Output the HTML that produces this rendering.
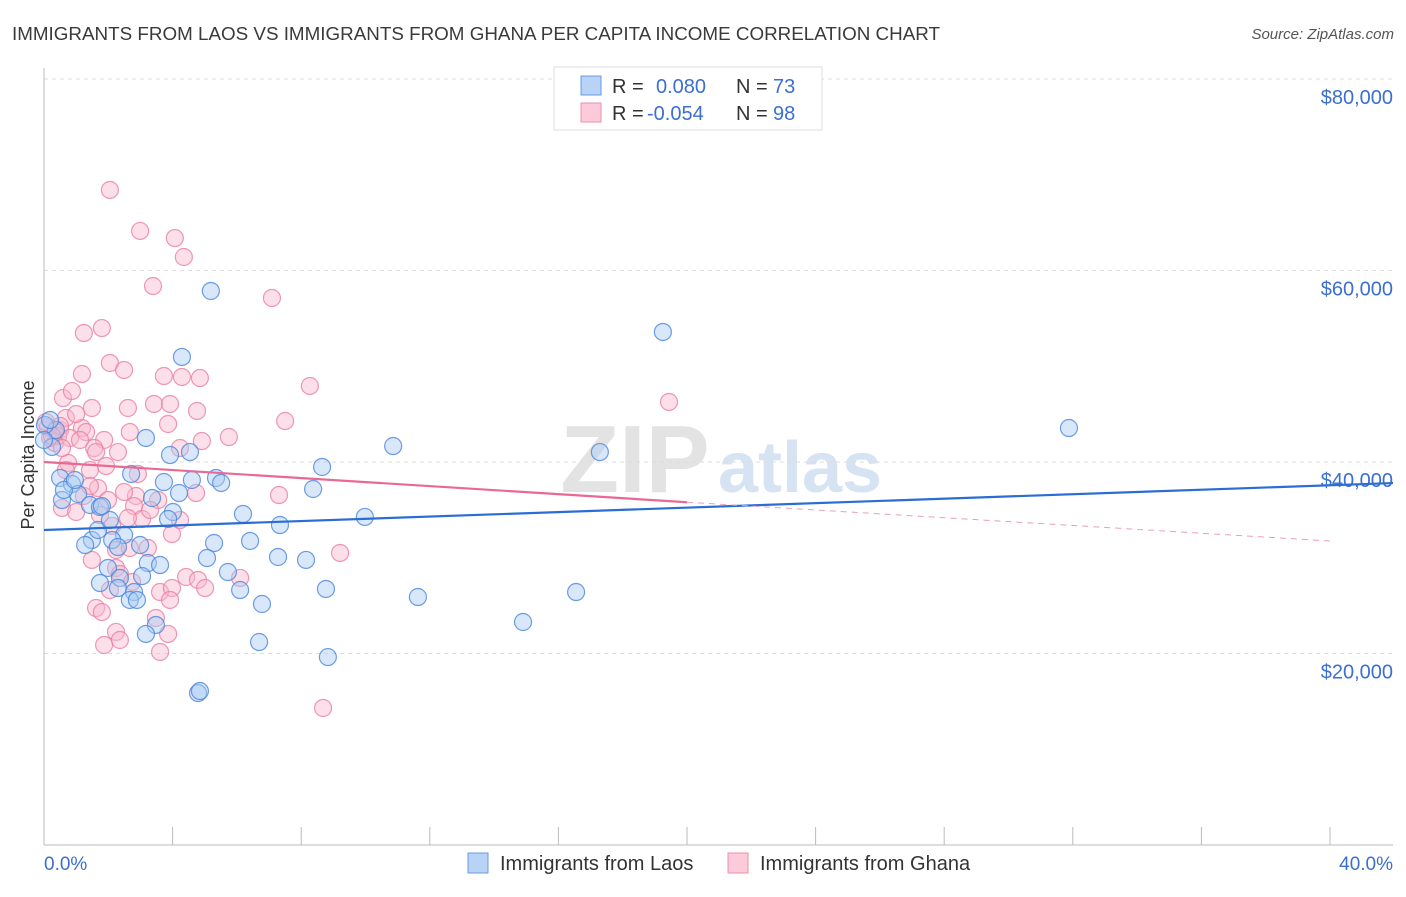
<!DOCTYPE html>
<html><head><meta charset="utf-8"><style>
body{margin:0;background:#fff;font-family:"Liberation Sans",sans-serif}
svg text{font-family:"Liberation Sans",sans-serif}
</style></head><body>
<svg id="chart" width="1406" height="892" xmlns="http://www.w3.org/2000/svg">
<text x="12" y="40" font-size="18" fill="#3a3a3a" textLength="928" lengthAdjust="spacingAndGlyphs">IMMIGRANTS FROM LAOS VS IMMIGRANTS FROM GHANA PER CAPITA INCOME CORRELATION CHART</text>
<text x="1394" y="39" font-size="15" fill="#555" text-anchor="end" font-style="italic">Source: ZipAtlas.com</text>
<g>
<text x="635" y="492" font-size="96" fill="#e3e3e3" text-anchor="middle" font-family="Liberation Serif" font-weight="bold">ZIP</text>
<text x="800" y="492" font-size="72" fill="#d6e3f3" text-anchor="middle" font-weight="bold">atlas</text>
</g>
<g id="grid"></g>
<g id="axes"></g>
<g id="pts"></g>
<g id="trends"></g>
<text transform="translate(34,455) rotate(-90)" font-size="18" fill="#333" text-anchor="middle">Per Capita Income</text>
<text x="44" y="870" font-size="19" fill="#3b6fd0">0.0%</text>
<text x="1393" y="870" font-size="19" fill="#3b6fd0" text-anchor="end">40.0%</text>
<g>
<rect x="554" y="67" width="268" height="63" fill="#fff" stroke="#ddd"/>
<rect x="581" y="76" width="20" height="19" fill="#b8d3f5" stroke="#6a9be0"/>
<rect x="581" y="103" width="20" height="19" fill="#fccad8" stroke="#ee8fae"/>
<text x="612" y="93" font-size="20" fill="#333">R =</text>
<text x="656" y="93" font-size="20" fill="#3b6fd0">0.080</text>
<text x="736" y="93" font-size="20" fill="#333">N =</text>
<text x="773" y="93" font-size="20" fill="#3b6fd0">73</text>
<text x="612" y="120" font-size="20" fill="#333">R =</text>
<text x="647" y="120" font-size="20" fill="#3b6fd0">-0.054</text>
<text x="736" y="120" font-size="20" fill="#333">N =</text>
<text x="773" y="120" font-size="20" fill="#3b6fd0">98</text>
</g>
<g>
<rect x="468" y="853" width="20" height="20" fill="#b8d3f5" stroke="#6a9be0"/>
<text x="500" y="870" font-size="20" fill="#333">Immigrants from Laos</text>
<rect x="728" y="853" width="20" height="20" fill="#fccad8" stroke="#ee8fae"/>
<text x="760" y="870" font-size="20" fill="#333">Immigrants from Ghana</text>
</g>
</svg>
<script>
const yTicks=[20000,40000,60000,80000];
const yTickLabels=["$20,000","$40,000","$60,000","$80,000"];
const xTicks=[0,4,8,12,16,20,24,28,32,36,40];
const laosX=[5.19,19.25,4.29,31.88,10.86,17.29,3.17,3.92,4.54,8.65,5.35,5.51,2.71,3.73,0.50,0.87,0.56,1.06,1.43,1.74,3.36,4.20,4.01,6.19,8.37,9.98,7.34,2.49,2.12,2.30,1.49,1.28,5.29,6.41,5.07,7.28,8.15,3.23,3.61,1.99,2.36,3.05,5.72,1.74,2.30,2.80,2.67,2.89,6.10,6.78,8.77,11.63,16.55,14.90,3.48,3.17,6.69,8.83,4.79,4.85,0.25,0.37,0.03,0.0,0.19,0.62,0.96,3.86,1.68,2.05,1.80,4.60,2.99];
const laosY=[57860,53580,50970,43550,41670,41040,42510,40730,41040,39480,38330,37810,38750,37910,38330,37700,36030,36660,35510,35300,36240,36760,34780,34570,37180,34260,33420,32380,31850,31120,31850,31330,31540,31750,29970,30080,29770,29450,29240,28930,27890,28090,28510,27360,26840,26420,25590,25590,26630,25170,26740,25900,26420,23290,22980,22040,21200,19630,15870,16080,41570,43340,43860,42300,44390,37080,38120,34050,32900,33940,35400,38120,31330];
const ghanaX=[2.05,2.99,4.07,4.35,3.39,7.09,1.24,1.80,2.05,1.18,2.49,3.73,4.29,4.85,8.27,0.59,0.87,1.49,2.61,3.42,3.92,4.76,7.50,19.44,5.75,2.67,3.86,1.87,1.18,0.50,0.34,0.68,1.00,1.31,1.56,2.30,4.23,2.92,4.91,0.75,1.43,1.93,2.86,3.55,4.73,7.31,1.24,1.68,0.56,1.00,1.74,2.80,3.05,3.98,3.23,2.24,2.67,2.24,2.36,4.42,4.79,5.01,6.10,3.61,3.98,3.92,2.05,1.62,1.80,9.21,3.48,3.86,2.24,2.36,1.87,3.61,8.68,0.34,0.44,0.19,0.12,0.50,0.25,0.06,0.81,1.12,0.56,1.62,1.43,2.49,3.30,1.99,2.61,2.12,4.23,1.49,2.74,0.68];
const ghanaY=[68410,64130,63390,61410,58380,57130,53470,53990,50340,49190,49610,48980,48880,48770,47940,46680,47410,45640,45640,46060,46060,45330,44280,46270,42610,43130,43970,42300,43550,43340,41980,44600,45010,43130,41460,41040,41460,38750,42190,39900,39160,39580,36450,36030,36760,36550,36450,37280,35200,34780,34460,35400,34050,32480,31020,30810,31020,28930,28300,27990,27680,26840,27890,26420,26840,25590,26630,24750,24330,30500,23710,22040,22250,21410,20890,20160,14310,43130,42720,42510,43660,43760,42720,44180,42510,42300,41460,41040,37490,36870,34990,36030,34150,33320,33940,29770,27470,39160];
const laosTrend=[[0,32900],[41.96,37800]];
const ghanaTrendSolid=[[0,40000],[20,35800]];
const ghanaTrendDash=[[20,35800],[40,31750]];
const NS="http://www.w3.org/2000/svg";
const X=v=>44+v*32.15, Y=v=>845-v/20000*191.5;
function mk(t,a,p){const e=document.createElementNS(NS,t);for(const k in a)e.setAttribute(k,a[k]);p.appendChild(e);return e;}
const grid=document.getElementById('grid'),axes=document.getElementById('axes'),pts=document.getElementById('pts'),tr=document.getElementById('trends');
yTicks.forEach((v,i)=>{
 const l=mk('line',{x1:44,x2:1393,y1:Y(v),y2:Y(v),stroke:'#ddd','stroke-dasharray':'4,4'},grid);
 
 
 const t=mk('text',{x:1393,y:Y(v)+25,'font-size':20,fill:'#3b6fd0','text-anchor':'end'},grid);
 t.textContent=yTickLabels[i];
 
 
});
const ax=mk('line',{x1:44,x2:44,y1:68,y2:845,stroke:'#bbb'},axes);


const bx=mk('line',{x1:44,x2:1393,y1:845,y2:845,stroke:'#bbb'},axes);


xTicks.forEach(v=>{const t=mk('line',{x1:X(v),x2:X(v),y1:827,y2:845,stroke:'#bbb'},axes);
 
 });
function dots(xs,ys,fill,stroke,name){xs.forEach((x,i)=>{
 const c=mk('circle',{cx:X(x),cy:Y(ys[i]),r:8.5,fill:fill,'fill-opacity':0.45,stroke:stroke,'stroke-width':1.2,'stroke-opacity':0.8},pts);
 
 });}
dots(ghanaX,ghanaY,'#f9b8cb','#e87fa2','ghana-point');
dots(laosX,laosY,'#a9c9f2','#4a86dc','laos-point');
function line(p,color,dash,name){const l=mk('line',{x1:X(p[0][0]),y1:Y(p[0][1]),x2:X(p[1][0]),y2:Y(p[1][1]),stroke:color,'stroke-width':dash?1:2.2},tr);
 if(dash)l.setAttribute('stroke-dasharray','6,5');
 
 }
line(laosTrend,'#2a6dd4',false,'laos-trend-line');
line(ghanaTrendSolid,'#e86a94',false,'ghana-trend-line');
line(ghanaTrendDash,'#e8a0b8',true,'ghana-trend-extension');
</script>
</body></html>
